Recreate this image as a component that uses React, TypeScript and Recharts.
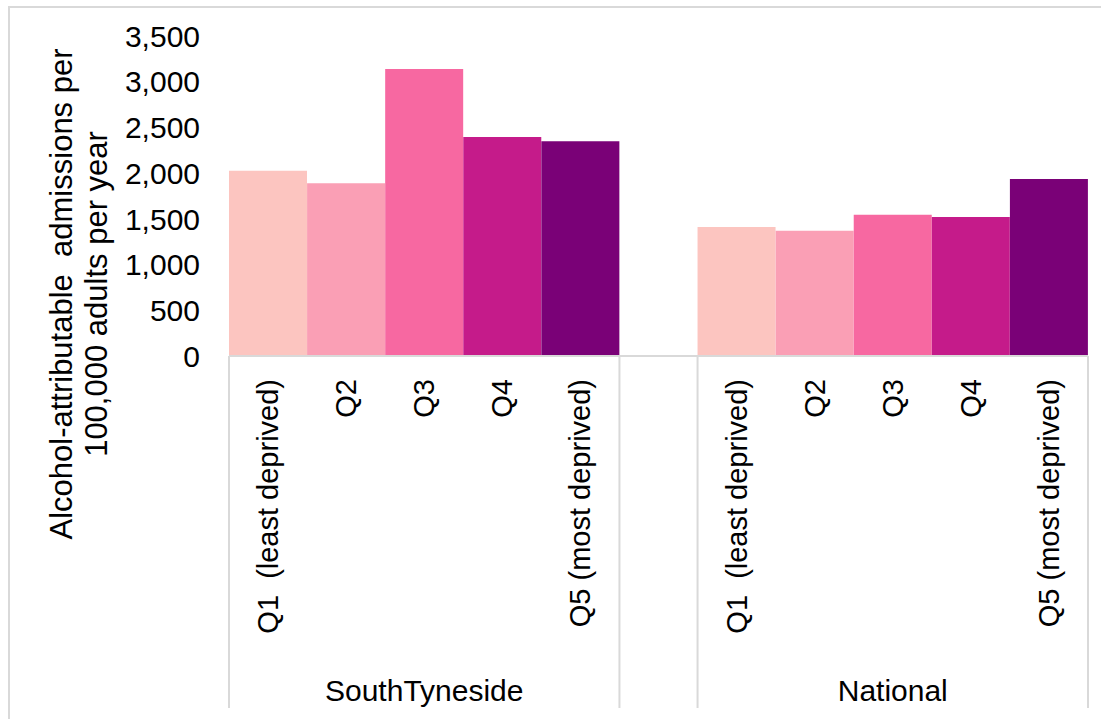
import { BarChart, Bar, Cell, XAxis, YAxis, Label } from "recharts";

const GROUPS = ["SouthTyneside", "National"];
const QUINTILES = ["Q1  (least deprived)", "Q2", "Q3", "Q4", "Q5 (most deprived)"];
const SOUTH_TYNESIDE = [2025, 1890, 3140, 2395, 2350];
const NATIONAL = [1410, 1370, 1545, 1520, 1935];
const Y_TICKS = [0, 500, 1000, 1500, 2000, 2500, 3000, 3500];
const Y_TITLE = ["Alcohol-attributable  admissions per", "100,000 adults per year"];

// RdPu, one shade per quintile
const COLORS = ["#fcc5c0", "#fa9fb5", "#f768a1", "#c51b8a", "#7a0177"];
const GRID = "#d9d9d9";
const FONT = "'Liberation Sans', Arial, sans-serif";

type Row = { key: string; group: string; label: string; qi: number; value: number | null };

// one spacer category between the two groups
const rows: Row[] = [];
[SOUTH_TYNESIDE, NATIONAL].forEach((vals, g) => {
  if (g > 0) rows.push({ key: "gap", group: "", label: "", qi: -1, value: null });
  vals.forEach((v, i) =>
    rows.push({ key: `${GROUPS[g]}-${i}`, group: GROUPS[g], label: QUINTILES[i], qi: i, value: v })
  );
});

function CategoryTick(props: any) {
  const { x, y, payload } = props;
  const row = rows[payload.index];
  if (!row || row.qi < 0) return null;
  const half = payload.offset ?? 0;
  const last = QUINTILES.length - 1;
  const mid = Math.floor(last / 2);
  return (
    <g>
      <text
        transform={`translate(${x + 10},${y + 23}) rotate(-90)`}
        textAnchor="end"
        fontSize={29}
        fill="#000"
        style={{ whiteSpace: "pre" }}
      >
        {row.label}
      </text>
      {row.qi === 0 && (
        <line x1={x - half} x2={x - half} y1={y} y2={y + 352} stroke={GRID} strokeWidth={2} />
      )}
      {row.qi === last && (
        <line x1={x + half} x2={x + half} y1={y} y2={y + 352} stroke={GRID} strokeWidth={2} />
      )}
      {row.qi === mid && (
        <text x={x} y={y + 345} textAnchor="middle" fontSize={30} fill="#000">
          {row.group}
        </text>
      )}
    </g>
  );
}

function YTitle(props: any) {
  const { viewBox } = props;
  const cy = viewBox.y + 258;
  return (
    <g>
      {Y_TITLE.map((t, i) => (
        <text
          key={i}
          transform={`translate(${72 + i * 35},${cy}) rotate(-90)`}
          textAnchor="middle"
          fontSize={31}
          fill="#000"
          style={{ whiteSpace: "pre" }}
        >
          {t}
        </text>
      ))}
    </g>
  );
}

export default function App() {
  return (
    <div
      style={{
        position: "absolute",
        left: 0,
        top: 0,
        width: 1101,
        height: 719,
        overflow: "hidden",
        background: "#fff",
        fontFamily: FONT,
      }}
    >
      <div
        style={{
          position: "absolute",
          left: 8,
          top: 6,
          width: 1200,
          height: 800,
          border: `2px solid ${GRID}`,
        }}
      />
      <div style={{ position: "absolute", left: 0, top: 0 }}>
        <BarChart
          width={1101}
          height={719}
          data={rows}
          margin={{ top: 36, right: 13, left: 0, bottom: 13 }}
          barCategoryGap={0}
          barGap={0}
        >
          <XAxis
            dataKey="key"
            interval={0}
            height={350}
            tickSize={0}
            tickMargin={0}
            tickLine={false}
            axisLine={{ stroke: GRID, strokeWidth: 2 }}
            tick={<CategoryTick />}
          />
          <YAxis
            width={229}
            domain={[0, 3500]}
            ticks={Y_TICKS}
            interval={0}
            axisLine={false}
            tickLine={false}
            tickSize={0}
            tickMargin={29}
            tick={{ fontSize: 30, fill: "#000" }}
            tickFormatter={(v: number) => v.toLocaleString("en-GB")}
          >
            <Label content={<YTitle />} />
          </YAxis>
          <Bar dataKey="value" isAnimationActive={false}>
            {rows.map((r) => (
              <Cell key={r.key} fill={r.qi >= 0 ? COLORS[r.qi] : "none"} />
            ))}
          </Bar>
        </BarChart>
      </div>
    </div>
  );
}
